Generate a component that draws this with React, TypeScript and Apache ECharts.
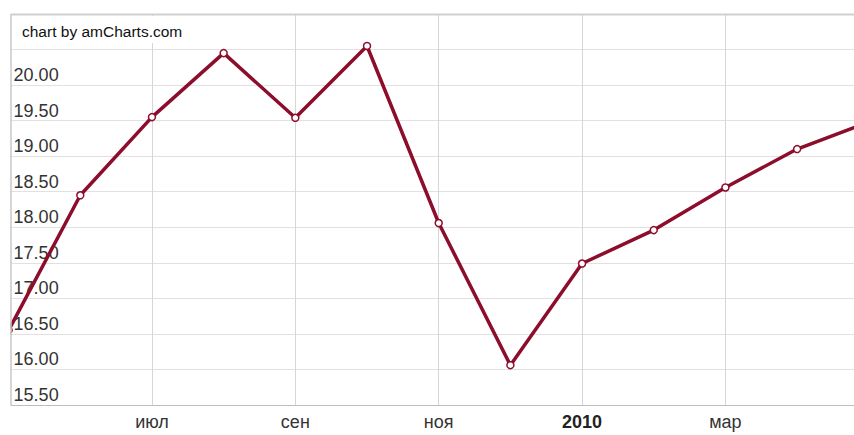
import React, { useEffect, useRef } from "react";
import * as echarts from "echarts";

const months = ["май", "июн", "июл", "авг", "сен", "окт", "ноя", "дек", "2010", "фев", "мар", "апр", "май"];
const values = [16.55, 18.45, 19.55, 20.45, 19.54, 20.55, 18.06, 16.06, 17.49, 17.96, 18.56, 19.1, 19.48];
const yMin = 15.5;
const yMax = 21;
const yStep = 0.5;

const FONT = "'Liberation Sans', Arial, sans-serif";
const showIdx = (i: number) => i % 2 === 0 && i > 0 && i < months.length - 1;

export default function App() {
  const ref = useRef<HTMLDivElement>(null);
  useEffect(() => {
    if (!ref.current) return;
    const chart = echarts.init(ref.current, null, { renderer: "svg" });
    chart.setOption({
      animation: false,
      backgroundColor: "#ffffff",
      grid: { left: 8.6, right: 1.2, top: 14, bottom: 30, containLabel: false },
      xAxis: {
        type: "category",
        data: months,
        boundaryGap: false,
        axisLine: { show: true, lineStyle: { color: "#bdbdbd", width: 1 } },
        axisTick: { show: false },
        axisLabel: {
          interval: (i: number) => showIdx(i),
          color: "#333",
          fontFamily: FONT,
          fontSize: 18,
          margin: 8,
          formatter: (v: string) => (v === "2010" ? "{b|2010}" : v),
          rich: { b: { fontWeight: "bold", fontSize: 18, fontFamily: FONT, color: "#222" } },
        },
        splitLine: { show: true, interval: (i: number) => showIdx(i), lineStyle: { color: "#d6d6d6", width: 1 } },
      },
      yAxis: {
        type: "value",
        min: yMin,
        max: yMax,
        interval: yStep,
        axisLine: { show: false },
        axisTick: { show: false },
        axisLabel: {
          inside: true,
          showMaxLabel: false,
          margin: 5,
          color: "#333",
          fontFamily: FONT,
          fontSize: 18,
          verticalAlign: "bottom",
          lineHeight: 20,
          formatter: (v: number) => (v >= 20.5 ? "" : v.toFixed(2)),
        },
        splitLine: { show: true, lineStyle: { color: "#e4dfe0", width: 1 } },
      },
      series: [
        {
          type: "line",
          data: values,
          clip: true,
          symbol: "circle",
          symbolSize: 7,
          showAllSymbol: true,
          lineStyle: { color: "#8c0d2c", width: 3.5 },
          itemStyle: { color: "#ffffff", borderColor: "#8c0d2c", borderWidth: 1.5 },
          z: 3,
        },
      ],
      graphic: [
        { type: "rect", shape: { x: 0, y: 0, width: 10.5, height: 435 }, style: { fill: "#ffffff" }, z: 100 },
        { type: "line", shape: { x1: 11, y1: 14, x2: 11, y2: 405 }, style: { stroke: "#c8c8c8", lineWidth: 1.5 }, z: 101 },
        { type: "line", shape: { x1: 11, y1: 14.5, x2: 870, y2: 14.5 }, style: { stroke: "#d0d0d0", lineWidth: 2 }, z: 101 },
        { type: "rect", shape: { x: 12, y: 16, width: 185, height: 27 }, style: { fill: "#ffffff" }, z: 102 },
        {
          type: "text",
          x: 22,
          y: 31,
          style: { text: "chart by amCharts.com", fill: "#111", font: `15.5px ${FONT}`, verticalAlign: "middle" },
          z: 103,
        },
      ],
    });
    return () => chart.dispose();
  }, []);
  return (
    <div style={{ width: 854, height: 435, position: "absolute", left: 0, top: 0, overflow: "hidden" }}>
      <div ref={ref} style={{ width: 870, height: 435 }} />
    </div>
  );
}
